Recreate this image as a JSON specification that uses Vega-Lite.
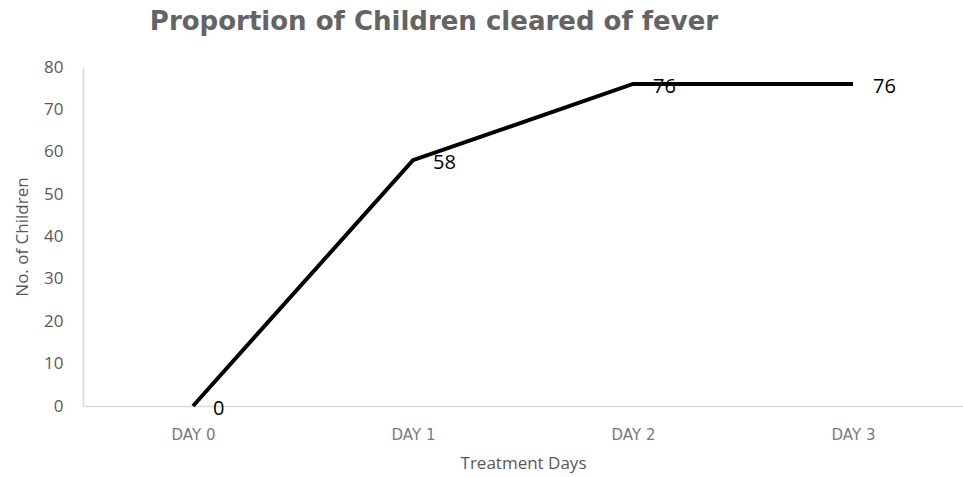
{
  "$schema": "https://vega.github.io/schema/vega-lite/v6.json",
  "autosize": "none",
  "width": 880,
  "height": 339,
  "padding": {"left": 83, "top": 67, "right": 0, "bottom": 71},
  "background": "white",
  "title": {
    "text": "Proportion of Children cleared of fever",
    "anchor": "middle",
    "dx": -89,
    "baseline": "bottom",
    "offset": -3,
    "font": "DejaVu Sans",
    "fontSize": 26,
    "fontWeight": "bold",
    "color": "#646464"
  },
  "data": {
    "values": [
      {"day": "DAY 0", "children": 0},
      {"day": "DAY 1", "children": 58},
      {"day": "DAY 2", "children": 76},
      {"day": "DAY 3", "children": 76}
    ]
  },
  "config": {
    "view": {"stroke": null},
    "axis": {"grid": false, "ticks": false, "labelColor": "#595959", "titleColor": "#595959", "titleFontWeight": "normal", "labelFont": "Open Sans", "titleFont": "Open Sans"}
  },
  "encoding": {
    "x": {
      "field": "day",
      "type": "ordinal",
      "scale": {"type": "point", "padding": 0.5},
      "axis": {"labelAngle": 0, "labelFont": "DejaVu Sans", "labelFontSize": 15, "labelColor": "#7a7a7a", "labelPadding": 21, "title": "Treatment Days", "titleFontSize": 17, "titlePadding": 13, "domainColor": "#d9d9d9", "domainWidth": 1.5}
    },
    "y": {
      "field": "children",
      "type": "quantitative",
      "scale": {"domain": [0, 80], "nice": false},
      "axis": {"values": [0, 10, 20, 30, 40, 50, 60, 70, 80], "labelFontSize": 17, "labelPadding": 20, "title": "No. of Children", "titleFontSize": 17, "titlePadding": 12, "domainColor": "#d9d9d9", "domainWidth": 1.5}
    }
  },
  "layer": [
    {"mark": {"type": "line", "color": "black", "strokeWidth": 4}},
    {"mark": {"type": "text", "align": "left", "baseline": "middle", "dx": 20, "dy": 3, "fontSize": 20, "font": "Open Sans", "color": "black"}, "encoding": {"text": {"field": "children", "type": "quantitative"}}}
  ]
}
